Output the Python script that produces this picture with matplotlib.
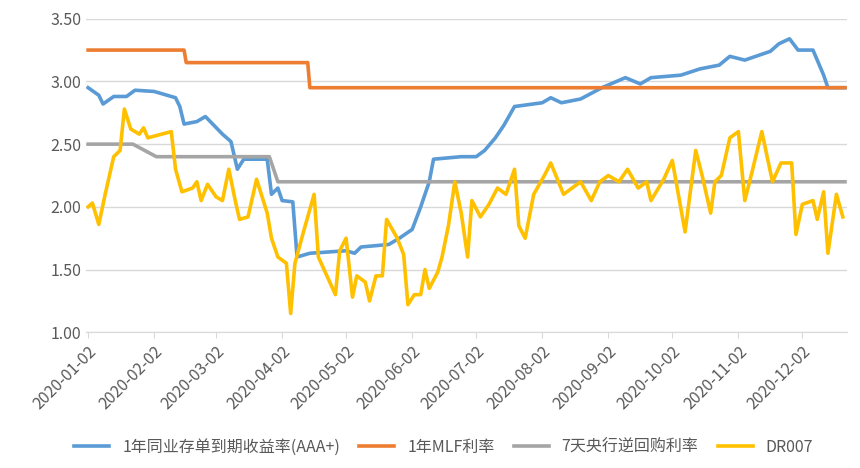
import matplotlib
matplotlib.use("Agg")
import matplotlib.pyplot as plt
import matplotlib.dates as mdates
import pandas as pd

plt.rcParams['font.family'] = ['Noto Sans CJK SC', 'DejaVu Sans']

ncd_dates = ["2020-01-02","2020-01-07","2020-01-09","2020-01-14","2020-01-20","2020-01-24","2020-02-02","2020-02-12","2020-02-14","2020-02-16","2020-02-22","2020-02-26","2020-03-01","2020-03-05","2020-03-09","2020-03-12","2020-03-15","2020-03-26","2020-03-28","2020-03-31","2020-04-02","2020-04-07","2020-04-09","2020-04-15","2020-05-02","2020-05-06","2020-05-09","2020-05-22","2020-05-27","2020-06-02","2020-06-06","2020-06-10","2020-06-12","2020-06-25","2020-07-02","2020-07-06","2020-07-11","2020-07-15","2020-07-20","2020-08-02","2020-08-06","2020-08-11","2020-08-20","2020-08-30","2020-09-10","2020-09-17","2020-09-22","2020-10-06","2020-10-15","2020-10-24","2020-10-29","2020-11-05","2020-11-17","2020-11-21","2020-11-26","2020-11-30","2020-12-07","2020-12-09","2020-12-12","2020-12-14","2020-12-22"]
ncd_vals = [2.95,2.89,2.82,2.88,2.88,2.93,2.92,2.87,2.80,2.66,2.68,2.72,2.65,2.58,2.52,2.30,2.38,2.38,2.10,2.15,2.05,2.04,1.60,1.63,1.65,1.63,1.68,1.70,1.75,1.82,2.00,2.20,2.38,2.40,2.40,2.45,2.55,2.65,2.80,2.83,2.87,2.83,2.86,2.95,3.03,2.98,3.03,3.05,3.10,3.13,3.20,3.17,3.24,3.30,3.34,3.25,3.25,3.17,3.05,2.95,2.95]

mlf_dates = ["2020-01-02","2020-02-16","2020-02-17","2020-04-14","2020-04-15","2020-12-22"]
mlf_vals = [3.25,3.25,3.15,3.15,2.95,2.95]

repo_dates = ["2020-01-02","2020-01-23","2020-02-03","2020-03-27","2020-03-31","2020-12-22"]
repo_vals = [2.50,2.50,2.40,2.40,2.20,2.20]

dr_dates = ["2020-01-02","2020-01-04","2020-01-07","2020-01-10","2020-01-14","2020-01-17","2020-01-19","2020-01-22","2020-01-26","2020-01-28","2020-01-30","2020-02-10","2020-02-12","2020-02-15","2020-02-20","2020-02-22","2020-02-24","2020-02-27","2020-03-02","2020-03-05","2020-03-08","2020-03-11","2020-03-13","2020-03-17","2020-03-21","2020-03-26","2020-03-28","2020-03-31","2020-04-04","2020-04-06","2020-04-08","2020-04-12","2020-04-17","2020-04-19","2020-04-23","2020-04-27","2020-04-29","2020-05-02","2020-05-05","2020-05-07","2020-05-11","2020-05-13","2020-05-16","2020-05-19","2020-05-21","2020-05-26","2020-05-29","2020-05-31","2020-06-03","2020-06-06","2020-06-08","2020-06-10","2020-06-14","2020-06-16","2020-06-19","2020-06-22","2020-06-25","2020-06-28","2020-06-30","2020-07-04","2020-07-08","2020-07-12","2020-07-16","2020-07-20","2020-07-22","2020-07-25","2020-07-29","2020-08-03","2020-08-06","2020-08-12","2020-08-16","2020-08-20","2020-08-25","2020-08-29","2020-09-02","2020-09-07","2020-09-11","2020-09-16","2020-09-20","2020-09-22","2020-09-28","2020-10-02","2020-10-08","2020-10-13","2020-10-16","2020-10-20","2020-10-22","2020-10-25","2020-10-29","2020-11-02","2020-11-05","2020-11-08","2020-11-13","2020-11-18","2020-11-22","2020-11-27","2020-11-29","2020-12-02","2020-12-07","2020-12-09","2020-12-12","2020-12-14","2020-12-18","2020-12-21"]
dr_vals = [2.00,2.03,1.86,2.10,2.40,2.45,2.78,2.62,2.58,2.63,2.55,2.60,2.30,2.12,2.15,2.20,2.05,2.18,2.08,2.05,2.30,2.05,1.90,1.92,2.22,1.95,1.75,1.60,1.55,1.15,1.55,1.80,2.10,1.60,1.45,1.30,1.65,1.75,1.28,1.45,1.40,1.25,1.45,1.45,1.90,1.75,1.62,1.22,1.30,1.30,1.50,1.35,1.48,1.60,1.85,2.20,1.95,1.60,2.05,1.92,2.02,2.15,2.10,2.30,1.85,1.75,2.10,2.25,2.35,2.10,2.15,2.20,2.05,2.20,2.25,2.20,2.30,2.15,2.20,2.05,2.22,2.37,1.80,2.45,2.25,1.95,2.20,2.25,2.55,2.60,2.05,2.25,2.60,2.20,2.35,2.35,1.78,2.02,2.05,1.90,2.12,1.63,2.10,1.92]

labels = ["1年同业存单到期收益率(AAA+)", "1年MLF利率", "7天央行逆回购利率", "DR007"]
ticks = pd.date_range("2020-01-01", periods=12, freq="MS") + pd.Timedelta(days=1)

fig, ax = plt.subplots(figsize=(8.6, 4.68), dpi=100)
fig.subplots_adjust(left=0.1, right=0.985, top=0.96, bottom=0.29)
lw = 2.6
ax.plot(pd.to_datetime(ncd_dates), ncd_vals, color="#5B9BD5", lw=lw, label=labels[0])
ax.plot(pd.to_datetime(mlf_dates), mlf_vals, color="#ED7D31", lw=lw, label=labels[1])
ax.plot(pd.to_datetime(repo_dates), repo_vals, color="#A5A5A5", lw=lw, label=labels[2])
ax.plot(pd.to_datetime(dr_dates), dr_vals, color="#FFC000", lw=lw, label=labels[3])

ax.set_ylim(1.0, 3.5)
ax.set_yticks([1.0,1.5,2.0,2.5,3.0,3.5])
ax.yaxis.set_major_formatter(matplotlib.ticker.FormatStrFormatter('%.2f'))
ax.set_xlim(pd.Timestamp("2020-01-01"), pd.Timestamp("2020-12-23"))
ax.set_xticks(ticks)
ax.xaxis.set_major_formatter(mdates.DateFormatter("%Y-%m-%d"))
plt.setp(ax.get_xticklabels(), rotation=45, ha="right", rotation_mode="anchor")
ax.tick_params(labelsize=11.5, colors="#595959", length=0)
ax.tick_params(axis='x', length=4, color="#D9D9D9")
ax.grid(axis='y', color="#D9D9D9", lw=1)
for s in ["top","right","left"]:
    ax.spines[s].set_visible(False)
ax.spines["bottom"].set_color("#D9D9D9")
ax.legend(loc="lower center", bbox_to_anchor=(0.47, -0.44), ncol=4, frameon=False,
          fontsize=11.5, handlelength=2.2, columnspacing=1.2, labelcolor="#595959")
fig.savefig("out.png")
